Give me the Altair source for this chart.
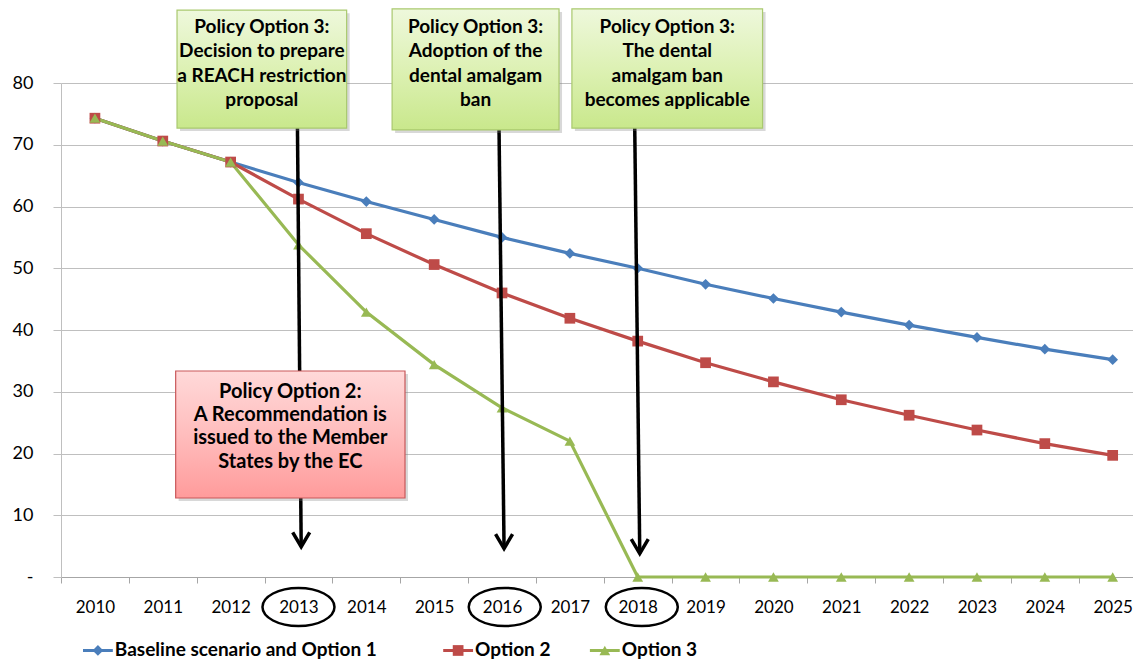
import altair as alt
import pandas as pd

# ---------------- data ----------------
years = list(range(2010, 2026))
baseline = [74.3, 70.6, 67.2, 63.9, 60.8, 57.9, 55.0, 52.4, 50.0, 47.4, 45.1, 42.9, 40.8, 38.8, 36.9, 35.2]
option2 = [74.3, 70.6, 67.2, 61.2, 55.6, 50.6, 46.0, 41.9, 38.2, 34.7, 31.6, 28.7, 26.2, 23.8, 21.6, 19.7]
option3 = [74.3, 70.6, 67.2, 53.8, 42.9, 34.4, 27.4, 22.0, 0, 0, 0, 0, 0, 0, 0, 0]

series_names = ["Baseline scenario and Option 1", "Option 2", "Option 3"]
series_colors = ["#4A7EBB", "#BE4B48", "#98B954"]
series_shapes = ["diamond", "square", "triangle-up"]
y_ticks = [0, 10, 20, 30, 40, 50, 60, 70, 80]

# annotation boxes (data coordinates: year, value)
green_box_x1 = [2011.21, 2014.38, 2017.03]
green_box_x2 = [2013.71, 2016.84, 2019.84]
green_box_top = [91.8, 92.0, 92.0]
green_box_bottom = [72.7, 72.4, 72.7]
green_box_lines = [
    ["Policy Option  3:", "Decision to prepare", "a REACH restriction", "proposal"],
    ["Policy Option  3:", "Adoption of the", "dental amalgam", "ban"],
    ["Policy Option  3:", "The dental", "amalgam ban", "becomes applicable"],
]
green_line_y = [89.07, 85.13, 81.21, 77.30]

red_box_x1 = [2011.19]
red_box_x2 = [2014.57]
red_box_top = [33.36]
red_box_bottom = [12.79]
red_box_lines = ["Policy Option 2:", "A Recommendation is", "issued to the Member", "States by the EC"]
red_line_y = [30.0, 26.25, 22.45, 18.65]

arrow_x_top = [2012.985, 2015.956, 2017.956]
arrow_x_tip = [2013.04, 2016.03, 2018.03]
arrow_y_top = [72.7, 72.4, 72.7]
arrow_y_tip = [4.9, 4.6, 3.8]

ellipse_x = [2013.0, 2016.04, 2018.06]
ellipse_y = [-4.86, -4.86, -4.86]

# legend placement (data coordinates below the axis)
legend_symbol_x = [2010.044, 2015.353, 2017.515]
legend_y = -11.9
legend_half = 0.22
legend_label_gap = 0.25

# ---------------- tables ----------------
rows = []
for name, vals in zip(series_names, [baseline, option2, option3]):
    for yr, v in zip(years, vals):
        rows.append({"year": yr, "value": v, "series": name})
df = pd.DataFrame(rows)

green_df = pd.DataFrame({"x1": green_box_x1, "x2": green_box_x2,
                         "top": green_box_top, "bottom": green_box_bottom})
red_df = pd.DataFrame({"x1": red_box_x1, "x2": red_box_x2,
                       "top": red_box_top, "bottom": red_box_bottom})

text_rows = []
for i, lines in enumerate(green_box_lines):
    cx = (green_box_x1[i] + green_box_x2[i]) / 2
    for ly, t in zip(green_line_y, lines):
        text_rows.append({"x": cx, "y": ly, "text": t})
green_text_df = pd.DataFrame(text_rows)
red_cx = (red_box_x1[0] + red_box_x2[0]) / 2
red_text_df = pd.DataFrame({"x": [red_cx] * len(red_box_lines), "y": red_line_y, "text": red_box_lines})

arrow_df = pd.DataFrame({"x": arrow_x_top, "x2": arrow_x_tip, "y": arrow_y_top, "y2": arrow_y_tip})
ellipse_df = pd.DataFrame({"x": ellipse_x, "y": ellipse_y})

legend_df = pd.DataFrame({
    "series": series_names,
    "cx": legend_symbol_x,
    "lx1": [v - legend_half for v in legend_symbol_x],
    "lx2": [v + legend_half for v in legend_symbol_x],
    "tx": [v + legend_label_gap for v in legend_symbol_x],
    "y": [legend_y] * 3,
})

# ---------------- scales ----------------
step = 67.85
x_scale = alt.Scale(domain=[2009.5, 2009.5 + 1072 / step], nice=False, zero=False)
y_scale = alt.Scale(domain=[0, 80], nice=False, zero=False)
color_scale = alt.Scale(domain=series_names, range=series_colors)
shape_scale = alt.Scale(domain=series_names, range=series_shapes)

x_axis = alt.Axis(
    values=[y - 0.5 for y in years], labelExpr="format(datum.value + 0.5, 'd')",
    labelOffset=step / 2, labelFlush=False, labelOverlap=False, labelBound=False, title=None,
    tickSize=6, tickColor="#A6A6A6", domainColor="#A6A6A6", grid=False,
    labelFont="Lato", labelFontSize=17, labelColor="black", labelPadding=24,
    labelBaseline="middle",
)
y_axis = alt.Axis(
    values=y_ticks, labelExpr="datum.value == 0 ? '-' : datum.label", title=None,
    tickSize=8, tickColor="#BFBFBF", domainColor="#BFBFBF", grid=True,
    gridColor="#BFBFBF", gridWidth=1, labelFont="Lato", labelFontSize=18,
    labelColor="black", labelPadding=20,
)

base = alt.Chart(df)
lines = base.mark_line(strokeWidth=3.2).encode(
    x=alt.X("year:Q", scale=x_scale, axis=x_axis),
    y=alt.Y("value:Q", scale=y_scale, axis=y_axis),
    color=alt.Color("series:N", scale=color_scale, legend=None, sort=series_names),
    order=alt.Order("year:Q"),
)
points = base.mark_point(filled=True, size=115, opacity=1).encode(
    x=alt.X("year:Q", scale=x_scale),
    y=alt.Y("value:Q", scale=y_scale),
    color=alt.Color("series:N", scale=color_scale, legend=None),
    shape=alt.Shape("series:N", scale=shape_scale, legend=None),
)

arrows = alt.Chart(arrow_df).mark_rule(color="black", strokeWidth=3.5).encode(
    x=alt.X("x:Q", scale=x_scale), x2="x2:Q",
    y=alt.Y("y:Q", scale=y_scale), y2="y2:Q",
)
heads = alt.Chart(arrow_df).mark_point(
    shape="M-1,-1.7L0,0L1,-1.7", filled=False, stroke="black", strokeWidth=3.5,
    size=289, opacity=1, strokeJoin="miter",
).encode(x=alt.X("x2:Q", scale=x_scale), y=alt.Y("y2:Q", scale=y_scale))

green_grad = alt.Gradient(gradient="linear", x1=0, x2=0, y1=0, y2=1, stops=[
    alt.GradientStop(color="#EEF8DC", offset=0),
    alt.GradientStop(color="#DDF1B4", offset=0.5),
    alt.GradientStop(color="#C9E88C", offset=1)])
red_grad = alt.Gradient(gradient="linear", x1=0, x2=0, y1=0, y2=1, stops=[
    alt.GradientStop(color="#FFD9D9", offset=0),
    alt.GradientStop(color="#FFBDBD", offset=0.5),
    alt.GradientStop(color="#FF9B9B", offset=1)])


def box_layer(data, fill, stroke):
    enc = dict(x=alt.X("x1:Q", scale=x_scale), x2="x2:Q",
               y=alt.Y("top:Q", scale=y_scale), y2="bottom:Q")
    shadow = alt.Chart(data).mark_rect(color="#7F7F7F", opacity=0.3, xOffset=3, yOffset=3,
                                       x2Offset=3, y2Offset=3).encode(**enc)
    box = alt.Chart(data).mark_rect(fill=fill, stroke=stroke, strokeWidth=1.2).encode(**enc)
    return shadow + box


green_boxes = box_layer(green_df, green_grad, "#A9C96E")
red_boxes = box_layer(red_df, red_grad, "#C9585A")

green_text = alt.Chart(green_text_df).mark_text(
    font="Lato", fontSize=19, fontWeight="bold", color="black", align="center", baseline="middle"
).encode(x=alt.X("x:Q", scale=x_scale), y=alt.Y("y:Q", scale=y_scale), text="text:N")
red_text = alt.Chart(red_text_df).mark_text(
    font="Lato", fontSize=20, fontWeight="bold", color="black", align="center", baseline="middle"
).encode(x=alt.X("x:Q", scale=x_scale), y=alt.Y("y:Q", scale=y_scale), text="text:N")

ellipse_path = "M-1,0A1,0.53,0,1,1,1,0A1,0.53,0,1,1,-1,0Z"
ellipses = alt.Chart(ellipse_df).mark_point(
    shape=ellipse_path, filled=False, stroke="black", strokeWidth=2.5, size=5184, opacity=1
).encode(x=alt.X("x:Q", scale=x_scale), y=alt.Y("y:Q", scale=y_scale))

# manual legend (line + marker + label)
leg_base = alt.Chart(legend_df)
leg_lines = leg_base.mark_rule(strokeWidth=3).encode(
    x=alt.X("lx1:Q", scale=x_scale), x2="lx2:Q",
    y=alt.Y("y:Q", scale=y_scale),
    color=alt.Color("series:N", scale=color_scale, legend=None),
)
leg_points = leg_base.mark_point(filled=True, size=115, opacity=1).encode(
    x=alt.X("cx:Q", scale=x_scale), y=alt.Y("y:Q", scale=y_scale),
    color=alt.Color("series:N", scale=color_scale, legend=None),
    shape=alt.Shape("series:N", scale=shape_scale, legend=None),
)
leg_text = leg_base.mark_text(
    font="Lato", fontSize=19, fontWeight="bold", color="black", align="left", baseline="middle"
).encode(x=alt.X("tx:Q", scale=x_scale), y=alt.Y("y:Q", scale=y_scale), text="series:N")

chart = alt.layer(
    lines, points, arrows, heads, green_boxes, red_boxes, green_text, red_text, ellipses,
    leg_lines, leg_points, leg_text
).properties(
    width=1072, height=494,
    autosize=alt.AutoSizeParams(type="none"),
    padding={"left": 53, "top": 75, "right": 0, "bottom": 83},
    background="white",
).configure_view(strokeWidth=0)

chart.save("out.html", embed_options={"renderer": "svg", "actions": False})
